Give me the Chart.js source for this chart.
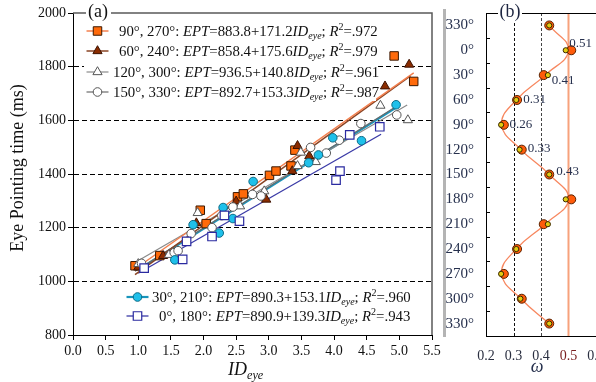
<!DOCTYPE html>
<html>
<head>
<meta charset="utf-8">
<script src="https://cdn.jsdelivr.net/npm/chart.js@4.4.1/dist/chart.umd.min.js"></script>
<style>
html, body { margin: 0; padding: 0; background: #fff; overflow: hidden; width: 596px; height: 382px; }
#wrapA { position: absolute; left: 0; top: 0; width: 444px; height: 382px; }
#wrapB { position: absolute; left: 446px; top: 0; width: 170px; height: 382px; }
#sep { position: absolute; left: 443px; top: 9px; width: 3px; height: 328px; background: #b4b4b4; }
</style>
</head>
<body>
<div id="wrapA"><canvas id="chartA" width="444" height="382"></canvas></div>
<div id="sep"></div>
<div id="wrapB"><canvas id="chartB" width="170" height="382"></canvas></div>
<script>
// ---- panel (a) data: eye pointing time vs ID_eye ----
const idOrange  = [0.95, 1.33, 1.95, 2.04, 2.52, 2.61, 3.01, 3.11, 3.34, 3.40, 4.92, 5.22];
const eptOrange = [1058, 1096, 1265, 1215, 1315, 1326, 1395, 1411, 1430, 1489, 1840, 1745];
const idBrown  = [1.00, 1.38, 1.89, 2.50, 2.96, 3.36, 3.44, 3.62, 4.78, 5.15];
const eptBrown = [1052, 1095, 1217, 1298, 1305, 1411, 1505, 1467, 1727, 1808];
const idTriOpen  = [1.00, 1.47, 1.91, 2.56, 2.93, 3.44, 3.49, 3.72, 4.71, 5.13];
const eptTriOpen = [1065, 1099, 1255, 1280, 1336, 1430, 1480, 1445, 1655, 1601];
const idCircOpen  = [1.05, 1.55, 1.61, 1.81, 2.13, 2.28, 2.45, 2.75, 2.88, 3.64, 3.88, 4.08, 4.41, 4.96];
const eptCircOpen = [1067, 1107, 1114, 1178, 1200, 1245, 1277, 1324, 1318, 1499, 1478, 1526, 1588, 1620];
const idCyan  = [1.56, 1.84, 2.24, 2.30, 2.45, 2.76, 3.61, 3.76, 3.98, 4.42, 4.95];
const eptCyan = [1080, 1211, 1180, 1275, 1234, 1372, 1442, 1471, 1535, 1524, 1658];
const idNavy  = [1.09, 1.68, 1.74, 2.13, 2.32, 2.55, 4.03, 4.09, 4.24, 4.70];
const eptNavy = [1049, 1082, 1149, 1167, 1246, 1224, 1377, 1411, 1546, 1576];

// regression line end points
const fitOrangeId = [0.95, 5.22],  fitOrangeEpt = [1046, 1777];
const fitBrownId = [0.95, 5.17],   fitBrownEpt = [1025, 1766];
const fitTriId = [0.95, 5.12],     fitTriEpt = [1070, 1657];
const fitCircId = [0.95, 5.00],    fitCircEpt = [1038, 1659];
const fitCyanId = [1.00, 4.95],    fitCyanEpt = [1043, 1648];
const fitNavyId = [1.00, 4.72],    fitNavyEpt = [1030, 1548];

// legend texts
const legAngles = ['90°, 270°', '60°, 240°', '120°, 300°', '150°, 330°', '30°, 210°', '0°, 180°'];
const legIntercepts = ['883.8', '858.4', '936.5', '892.7', '890.3', '890.9'];
const legSlopes = ['171.2', '175.6', '140.8', '153.3', '153.1', '139.3'];
const legR2 = ['.972', '.979', '.961', '.987', '.960', '.943'];

// ---- panel (b) data: omega by angle ----
const angles = [-30, 0, 30, 60, 90, 120, 150, 180, 210, 240, 270, 300, 330];
const omegaOrange = [0.43, 0.51, 0.41, 0.313, 0.265, 0.33, 0.43, 0.51, 0.41, 0.313, 0.265, 0.33, 0.43];
const omegaYellow = [0.43, 0.49, 0.425, 0.31, 0.255, 0.322, 0.43, 0.49, 0.425, 0.31, 0.255, 0.325, 0.43];
const omegaCurve  = [0.43, 0.50, 0.415, 0.31, 0.257, 0.327, 0.43, 0.50, 0.415, 0.31, 0.257, 0.327, 0.43];
const labelAngles = [0, 30, 60, 90, 120, 150];
const labelOmega  = [0.51, 0.41, 0.31, 0.26, 0.33, 0.43];
const refLines = [0.3, 0.4];
const thresholdOmega = 0.5;

const SERIF = '"Liberation Serif", "DejaVu Serif", serif';

function zip(xs, ys) {
    return xs.map((x, i) => ({ x: x, y: ys[i] }));
}

// marker styles (panel a)
const stOrange = { shape: 'rect', r: 6, fill: '#ff6a0a', stroke: '#3a1800', w: 1, line: '#f3804f', lw: 1.5 };
const stBrown = { shape: 'triangle', r: 5.3, fill: '#8a2c00', stroke: '#3d1200', w: 1, line: '#8a4424', lw: 1.5 };
const stTri = { shape: 'triangle', r: 5.3, fill: '#ffffff', stroke: '#555555', w: 1, line: '#8a8a8a', lw: 1.2 };
const stCirc = { shape: 'circle', r: 4.3, fill: '#ffffff', stroke: '#555555', w: 1, line: '#6a6a6a', lw: 1.2 };
const stCyan = { shape: 'circle', r: 4.3, fill: '#1fc0ea', stroke: '#0b6a85', w: 1, line: '#1894bb', lw: 2.2 };
const stNavy = { shape: 'rect', r: 6, fill: '#ffffff', stroke: '#2a2aa0', w: 1.2, line: '#3a3aa6', lw: 1.3 };

const seriesA = [
    { id: idOrange, ept: eptOrange, fid: fitOrangeId, fept: fitOrangeEpt, st: stOrange },
    { id: idBrown, ept: eptBrown, fid: fitBrownId, fept: fitBrownEpt, st: stBrown },
    { id: idTriOpen, ept: eptTriOpen, fid: fitTriId, fept: fitTriEpt, st: stTri },
    { id: idCircOpen, ept: eptCircOpen, fid: fitCircId, fept: fitCircEpt, st: stCirc },
    { id: idCyan, ept: eptCyan, fid: fitCyanId, fept: fitCyanEpt, st: stCyan },
    { id: idNavy, ept: eptNavy, fid: fitNavyId, fept: fitNavyEpt, st: stNavy }
];

// draw a marker the same way Chart.js shapes it
function drawMarker(ctx, st, x, y) {
    ctx.save();
    ctx.fillStyle = st.fill;
    ctx.strokeStyle = st.stroke;
    ctx.lineWidth = st.w;
    ctx.beginPath();
    if (st.shape === 'rect') {
        const s = Math.SQRT1_2 * st.r;
        ctx.rect(x - s, y - s, 2 * s, 2 * s);
    } else if (st.shape === 'triangle') {
        let rad = 0;
        ctx.moveTo(x + Math.sin(rad) * st.r, y - Math.cos(rad) * st.r);
        rad += Math.PI * 2 / 3;
        ctx.lineTo(x + Math.sin(rad) * st.r, y - Math.cos(rad) * st.r);
        rad += Math.PI * 2 / 3;
        ctx.lineTo(x + Math.sin(rad) * st.r, y - Math.cos(rad) * st.r);
        ctx.closePath();
    } else {
        ctx.arc(x, y, st.r, 0, Math.PI * 2);
    }
    ctx.fill();
    ctx.stroke();
    ctx.restore();
}

// text with italic / sub / sup runs, cy = visual centre line
function drawRich(ctx, x, cy, parts, size, color) {
    const base = cy + size * 0.33;
    ctx.save();
    ctx.fillStyle = color;
    ctx.textAlign = 'left';
    ctx.textBaseline = 'alphabetic';
    parts.forEach(p => {
        const [t, k] = p;
        let sz = size, by = base, it = (k === 'i' || k === 'sub');
        if (k === 'sub') { sz = size * 0.68; by = base + size * 0.22; }
        if (k === 'sup') { sz = size * 0.68; by = base - size * 0.4; }
        ctx.font = (it ? 'italic ' : '') + sz + 'px ' + SERIF;
        ctx.fillText(t, x, by);
        x += ctx.measureText(t).width;
    });
    ctx.restore();
}

function legendParts(i) {
    return [
        [legAngles[i] + ': ', 'n'], ['EPT', 'i'],
        ['=' + legIntercepts[i] + '+' + legSlopes[i], 'n'], ['ID', 'i'], ['eye', 'sub'],
        ['; ', 'n'], ['R', 'i'], ['2', 'sup'], ['=' + legR2[i], 'n']
    ];
}

// legend rows: [series index, row centre y, marker centre x, text x]
const legendRows = [
    [0, 31, 97.5, 119], [1, 51, 97.5, 119], [2, 72, 97.5, 113], [3, 92, 97.5, 113],
    [4, 297, 137.5, 152], [5, 316, 137.5, 159]
];

const panelA = {
    id: 'panelA',
    afterDraw(chart) {
        const { ctx, chartArea: a } = chart;
        ctx.save();
        // top and right frame
        ctx.strokeStyle = '#5a5a5a';
        ctx.lineWidth = 1.5;
        ctx.beginPath();
        ctx.moveTo(a.left, a.top);
        ctx.lineTo(a.right, a.top);
        ctx.lineTo(a.right, a.bottom);
        ctx.stroke();

        // legend backgrounds
        ctx.fillStyle = '#fff';
        ctx.fillRect(84, 21, 292, 80);
        ctx.fillRect(124, 288, 284, 38);

        legendRows.forEach(row => {
            const [si, cy, mx, tx] = row;
            const st = seriesA[si].st;
            ctx.strokeStyle = st.line;
            ctx.lineWidth = st.lw;
            ctx.beginPath();
            ctx.moveTo(mx - 11, cy);
            ctx.lineTo(mx + 11, cy);
            ctx.stroke();
            drawMarker(ctx, st, mx, cy);
            drawRich(ctx, tx, cy, legendParts(si), 14.8, '#111');
        });

        // panel tag
        ctx.fillStyle = '#fff';
        ctx.fillRect(86, 3, 25, 18);
        ctx.fillStyle = '#111';
        ctx.font = '18px ' + SERIF;
        ctx.textAlign = 'center';
        ctx.textBaseline = 'middle';
        ctx.fillText('(a)', 98, 12);

        // y title
        ctx.save();
        ctx.translate(18, 168);
        ctx.rotate(-Math.PI / 2);
        ctx.fillText('Eye Pointing time (ms)', 0, 0);
        ctx.restore();

        // x title
        drawRich(ctx, 228, 369, [['ID', 'i'], ['eye', 'sub']], 18, '#111');
        ctx.restore();
    }
};

const datasetsA = [];
seriesA.forEach(s => {
    datasetsA.push({
        data: zip(s.fid, s.fept), showLine: true, pointRadius: 0,
        borderColor: s.st.line, borderWidth: s.st.lw, order: 10
    });
});
seriesA.forEach((s, i) => {
    datasetsA.push({
        data: zip(s.id, s.ept), showLine: false, pointStyle: s.st.shape,
        pointRadius: s.st.r, backgroundColor: s.st.fill, borderColor: s.st.stroke,
        borderWidth: s.st.w, order: 6 - i
    });
});

const tickFont = { family: SERIF, size: 14 };

new Chart(document.getElementById('chartA'), {
    type: 'scatter',
    data: { datasets: datasetsA },
    options: {
        responsive: false,
        animation: false,
        layout: { padding: { top: 13, right: 12, left: 0, bottom: 0 } },
        plugins: { legend: { display: false }, tooltip: { enabled: false } },
        scales: {
            x: {
                type: 'linear', min: 0, max: 5.5,
                afterFit: s => { s.height = 47; },
                ticks: { stepSize: 0.5, autoSkip: false, maxRotation: 0, padding: 3,
                    font: tickFont, color: '#111', callback: v => v.toFixed(1) },
                grid: { drawOnChartArea: false, tickLength: 5, color: '#000' },
                border: { color: '#000', width: 1 }
            },
            y: {
                type: 'linear', min: 800, max: 2000,
                afterFit: s => { s.width = 73; },
                ticks: { stepSize: 200, padding: 2, font: tickFont, color: '#111',
                    callback: v => String(v) },
                grid: {
                    tickLength: 5, tickColor: '#000',
                    color: c => (c.tick && (c.tick.value === 800 || c.tick.value === 2000)) ? 'rgba(0,0,0,0)' : '#000'
                },
                border: { color: '#000', width: 1, dash: [5, 3] }
            }
        }
    },
    plugins: [panelA]
});

// ---- panel (b) ----
const labelOffsets = [[-2, -7], [8, 5], [7, 0], [7, 0], [6, -1], [7, -3]];

const panelB = {
    id: 'panelB',
    beforeDatasetsDraw(chart) {
        const { ctx, chartArea: a, scales: { x } } = chart;
        ctx.save();
        ctx.lineWidth = 1;
        refLines.forEach((v, i) => {
            const px = Math.round(x.getPixelForValue(v)) + 0.5;
            ctx.setLineDash([3, 2]);
            ctx.strokeStyle = i === 0 ? '#111' : '#444';
            ctx.beginPath();
            ctx.moveTo(px, a.top);
            ctx.lineTo(px, a.bottom);
            ctx.stroke();
        });
        ctx.setLineDash([]);
        ctx.strokeStyle = '#f7a27c';
        ctx.lineWidth = 2;
        const tx = x.getPixelForValue(thresholdOmega);
        ctx.beginPath();
        ctx.moveTo(tx, a.top);
        ctx.lineTo(tx, a.bottom);
        ctx.stroke();
        ctx.restore();
    },
    afterDraw(chart) {
        const { ctx, chartArea: a, scales: { x, y } } = chart;
        ctx.save();
        // top frame
        ctx.strokeStyle = '#000';
        ctx.lineWidth = 1;
        ctx.beginPath();
        ctx.moveTo(a.left, a.top + 0.5);
        ctx.lineTo(a.right, a.top + 0.5);
        ctx.stroke();
        // inward tick marks between labels
        y.ticks.forEach(t => {
            if (t.value % 30 === 0 || t.value === y.min || t.value === y.max) return;
            const py = Math.round(y.getPixelForValue(t.value)) + 0.5;
            ctx.beginPath();
            ctx.moveTo(a.left, py);
            ctx.lineTo(a.left + 4, py);
            ctx.stroke();
        });
        // value labels
        ctx.fillStyle = '#26304d';
        ctx.font = '13px ' + SERIF;
        ctx.textAlign = 'left';
        ctx.textBaseline = 'middle';
        labelAngles.forEach((ang, i) => {
            const px = x.getPixelForValue(labelOmega[i]) + labelOffsets[i][0];
            const py = y.getPixelForValue(ang) + labelOffsets[i][1];
            ctx.fillText(labelOmega[i].toFixed(2), px, py);
        });
        // panel tag
        ctx.fillStyle = '#fff';
        ctx.fillRect(52, 3, 24, 18);
        ctx.fillStyle = '#1d2540';
        ctx.font = '18px ' + SERIF;
        ctx.textAlign = 'center';
        ctx.fillText('(b)', 64, 12);
        // x title
        ctx.fillStyle = '#26304d';
        ctx.font = 'italic 18px ' + SERIF;
        ctx.fillText('ω', 91, 367);
        ctx.restore();
    }
};

new Chart(document.getElementById('chartB'), {
    type: 'scatter',
    data: {
        datasets: [
            { data: zip(omegaYellow, angles), showLine: false, pointRadius: 2.6,
              backgroundColor: '#e2cc12', borderColor: '#3a2800', borderWidth: 1, order: 1 },
            { data: zip(omegaOrange, angles), showLine: false, pointRadius: 4.5,
              backgroundColor: '#ff5b0a', borderColor: '#5a2200', borderWidth: 1, order: 2 },
            { data: zip(omegaCurve, angles), showLine: true, tension: 0.45, pointRadius: 0,
              borderColor: '#f7875f', borderWidth: 1.3, order: 3 }
        ]
    },
    options: {
        responsive: false,
        animation: false,
        clip: false,
        layout: { padding: { top: 12, right: 20, left: 0, bottom: 0 } },
        plugins: { legend: { display: false }, tooltip: { enabled: false } },
        scales: {
            x: {
                type: 'linear', min: 0.2, max: 0.6,
                afterFit: s => { s.height = 46; },
                ticks: { stepSize: 0.1, autoSkip: false, maxRotation: 0, padding: 4,
                    font: tickFont, callback: v => v.toFixed(1),
                    color: c => Math.abs(c.tick.value - 0.5) < 1e-6 ? '#7a2020' : '#2a2f40' },
                grid: { display: false },
                border: { display: true, color: '#000', width: 1 }
            },
            y: {
                type: 'linear', min: -45, max: 345, reverse: true,
                afterFit: s => { s.width = 40; },
                ticks: { stepSize: 15, autoSkip: false, padding: 4,
                    font: { family: SERIF, size: 15 }, color: '#26304d',
                    callback: v => (v % 30 === 0) ? ((v < 0 ? v + 360 : v) + '°') : '' },
                grid: { display: false },
                border: { display: true, color: '#000', width: 1 }
            }
        }
    },
    plugins: [panelB]
});
</script>
</body>
</html>
